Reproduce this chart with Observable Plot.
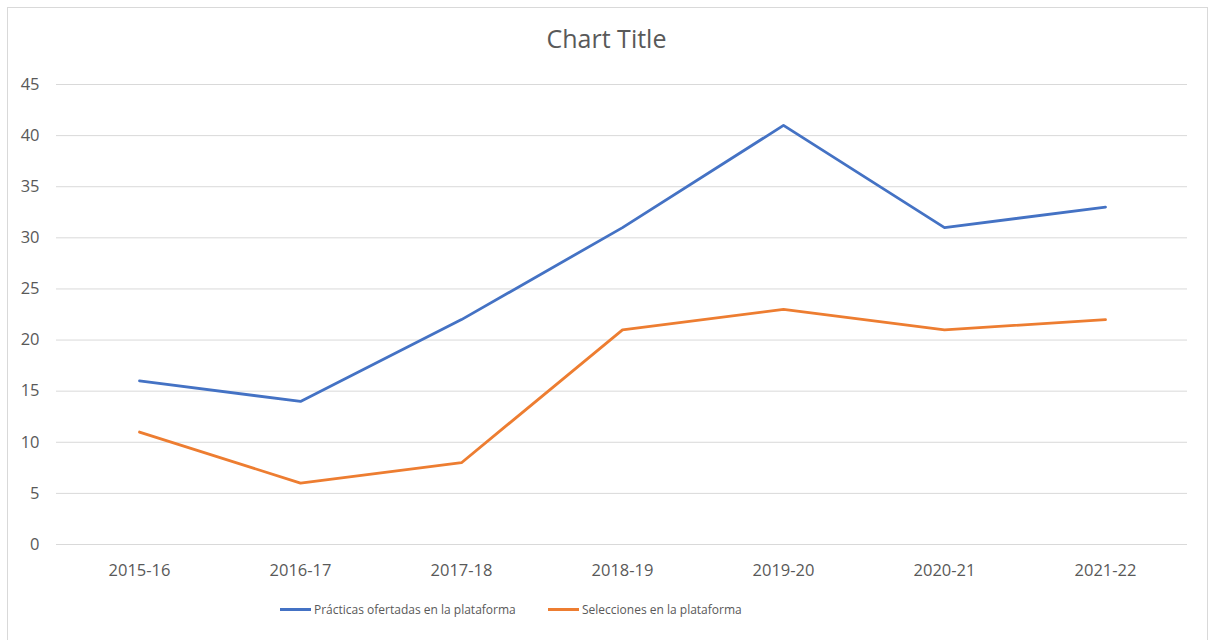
<!DOCTYPE html>
<html>
<head>
<meta charset="utf-8">
<script src="https://cdn.jsdelivr.net/npm/d3@7"></script>
<script src="https://cdn.jsdelivr.net/npm/@observablehq/plot@0.6"></script>
<style>
  html, body { margin: 0; padding: 0; background: #fff; }
  body { width: 1209px; height: 640px; position: relative; overflow: hidden; font-family: "Open Sans", sans-serif; }
  #frame { position: absolute; left: 7px; top: 7px; width: 1201px; height: 700px; border: 1.5px solid #d9d9d9; box-sizing: border-box; }
  #title { position: absolute; left: 0; width: 1213px; top: 21px; text-align: center; font-size: 25px; color: #595959; white-space: nowrap; }
  #chart { position: absolute; left: 0; top: 70px; }
  #legend { position: absolute; top: 601px; left: 0; width: 1209px; font-size: 12px; color: #595959; }
  .item { position: absolute; display: flex; align-items: center; white-space: nowrap; }
  .sw { width: 31px; height: 3px; margin-right: 3px; }
</style>
</head>
<body>
<div id="frame"></div>
<div id="title">Chart Title</div>
<div id="chart"></div>
<div id="legend"></div>
<script>
const categories = ["2015-16", "2016-17", "2017-18", "2018-19", "2019-20", "2020-21", "2021-22"];
const seriesNames = ["Prácticas ofertadas en la plataforma", "Selecciones en la plataforma"];
const practicas = [16, 14, 22, 31, 41, 31, 33];
const selecciones = [11, 6, 8, 21, 23, 21, 22];
const yTicks = [0, 5, 10, 15, 20, 25, 30, 35, 40, 45];
const colors = ["#4472C4", "#ED7D31"];

const data = [];
categories.forEach((c, i) => {
  data.push({cat: c, value: practicas[i], series: seriesNames[0]});
  data.push({cat: c, value: selecciones[i], series: seriesNames[1]});
});

const chart = Plot.plot({
  width: 1209,
  height: 520,
  marginLeft: 56,
  marginRight: 22,
  marginTop: 14,
  marginBottom: 46,
  style: {fontFamily: "Open Sans, sans-serif", fontSize: "16.5px", color: "#595959", background: "transparent"},
  x: {type: "point", domain: categories, padding: 0.5, label: null, tickSize: 0, tickPadding: 20},
  y: {domain: [0, 45], ticks: yTicks, label: null, tickSize: 0, tickPadding: 17},
  color: {domain: seriesNames, range: colors},
  marks: [
    Plot.ruleY(yTicks, {stroke: "#d9d9d9", strokeWidth: 1}),
    Plot.line(data, {x: "cat", y: "value", z: "series", stroke: "series", strokeWidth: 2.8, strokeLinejoin: "round", strokeLinecap: "round"})
  ]
});
document.getElementById("chart").appendChild(chart);

const legend = document.getElementById("legend");
const lefts = [280, 548];
seriesNames.forEach((n, i) => {
  const it = document.createElement("div");
  it.className = "item";
  it.style.left = lefts[i] + "px";
  const sw = document.createElement("div");
  sw.className = "sw";
  sw.style.background = colors[i];
  const t = document.createElement("span");
  t.textContent = n;
  it.appendChild(sw);
  it.appendChild(t);
  legend.appendChild(it);
});
</script>
</body>
</html>
